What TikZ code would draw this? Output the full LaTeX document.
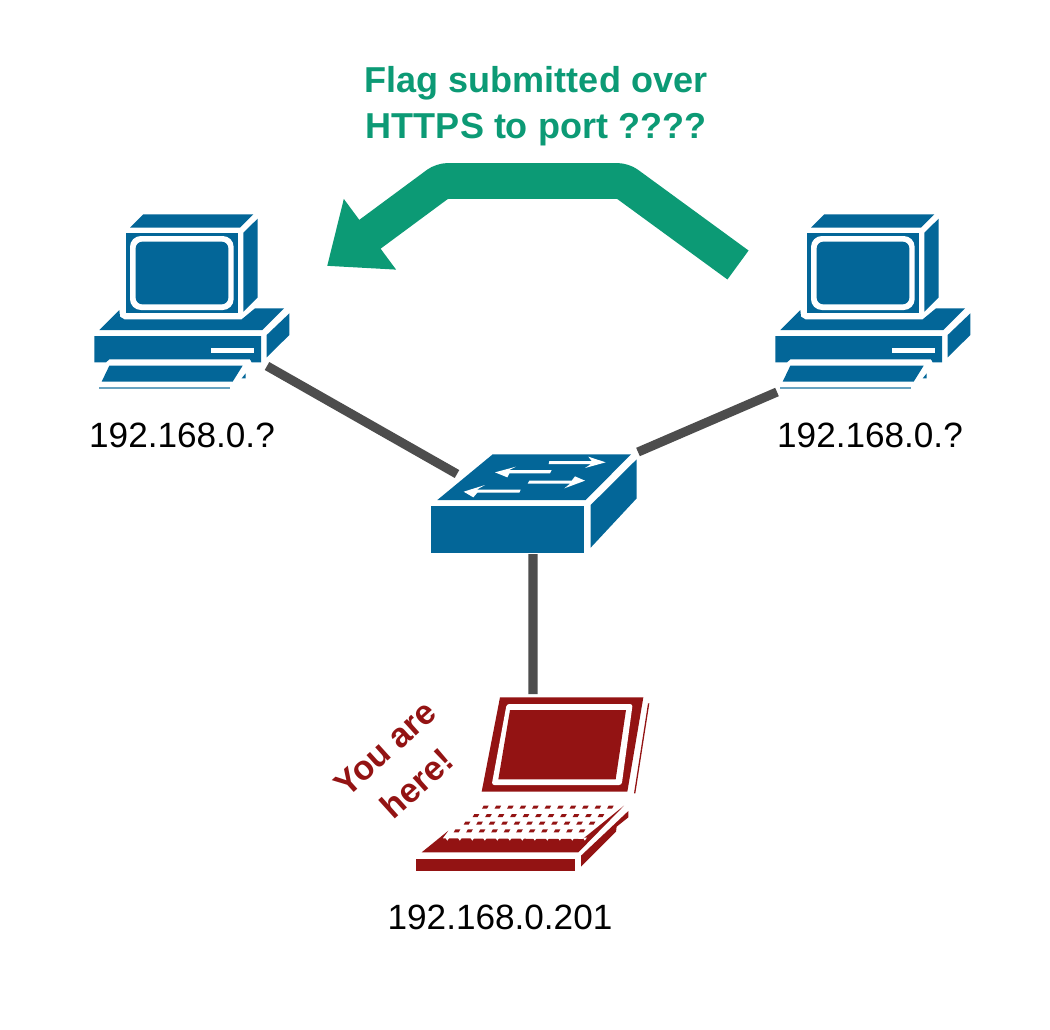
\documentclass[tikz,border=0pt]{standalone}
\usepackage{fontspec}
\setmainfont{Liberation Sans}
\usetikzlibrary{arrows.meta}

\definecolor{netblue}{HTML}{036698}
\definecolor{hostred}{HTML}{931313}
\definecolor{flaggreen}{HTML}{0C9A75}
\definecolor{linkgrey}{HTML}{4D4D4D}

\tikzset{
	link/.style = {line width = 5.2pt, linkgrey},
	flagarrow/.style = {line width = 20.4pt, flaggreen, rounded corners = 3.3pt, -{Triangle[length = 30.4pt, width = 48pt]}},
	iplabel/.style = {font = \fontsize{20pt}{24pt}\selectfont, inner sep = 0pt},
	flaglabel/.style = {font = \fontsize{20.5pt}{26pt}\selectfont\bfseries, text = flaggreen, align = center, inner sep = 0pt},
	herelabel/.style = {font = \fontsize{19.5pt}{27pt}\selectfont\bfseries, text = hostred, align = center, inner sep = 0pt, rotate = 42},
	pics/computer/.style = {code = {
		\begin{scope}[scale = 1/3]
			\fill[netblue] (150,83) -- (190,43) -- (520,43) -- (480,83) -- cycle;
			\fill[netblue] (490,98) -- (533,56) -- (533,292) -- (490,335) -- cycle;
			\fill[netblue] (137,100) rectangle (473,340);
			\fill[white, rounded corners = 6.2pt] (150,108) rectangle (461,330);
			\fill[netblue, rounded corners = 3.8pt] (167,125) rectangle (445,313);
			
			\fill[netblue] (58,390) -- (118,330) -- (120,350) -- (133,358) -- (485,358) -- (525,325) -- (612,325) -- (547,390) -- cycle;
			\fill[netblue] (560,405) -- (628,340) -- (628,405) -- (560,472) -- cycle;
			\fill[netblue] (43,408) -- (543,408) -- (543,487) -- (515,487) -- (510,478) -- (88,478) -- (78,487) -- (43,487) -- cycle;
			\fill[white] (392,443) rectangle (522,460);
			
			\fill[netblue] (88,497) -- (488,497) -- (458,545) -- (65,545) -- cycle;
			\fill[netblue] (485,535) -- (497,520) -- (497,535) -- cycle;
			\draw[netblue!60, line width = 1pt] (58,563) -- (450,563);
			
			\coordinate (-portr) at (561,498);
			\coordinate (-portl) at (48,576);
		\end{scope}
	}},
	pics/switch/.style = {code = {
		\begin{scope}[scale = 1/3]
			\fill[netblue] (52,180) -- (218,43) -- (633,43) -- (497,180) -- cycle;
			\fill[netblue] (512,195) -- (650,58) -- (650,175) -- (512,323) -- cycle;
			\fill[netblue] (32,198) rectangle (493,340);
			
			\fill[white] (388,63) -- (515,63) -- (505,50) -- (557,67) -- (495,84) -- (513,72) -- (386,72) -- cycle;
			\fill[white] (395,90) -- (268,90) -- (288,80) -- (225,97) -- (262,112) -- (268,100) -- (390,100) -- cycle;
			\fill[white] (328,122) -- (455,122) -- (465,109) -- (495,122) -- (433,145) -- (450,131) -- (323,131) -- cycle;
			\fill[white] (302,149) -- (170,149) -- (195,135) -- (131,155) -- (160,172) -- (172,158) -- (298,158) -- cycle;
			
			\coordinate (-nw) at (111,102);
			\coordinate (-ne) at (654,36);
			\coordinate (-s) at (339,342);
		\end{scope}
	}},
	pics/laptop/.style = {code = {
		\begin{scope}[scale = 1/3]
			\fill[hostred] (540,37) -- (970,37) -- (922,320) -- (485,320) -- cycle;
			\fill[white, rounded corners = 1.5pt] (560,57) -- (938,57) -- (905,300) -- (515,300) -- cycle;
			\fill[hostred] (570,75) -- (918,75) -- (887,283) -- (535,283) -- cycle;
			\fill[hostred] (984,55) -- (988,55) -- (946,325) -- (942,325) -- cycle;
			
			\fill[hostred] (305,502) -- (385,437) -- (368,460) -- (788,462) -- (912,362) -- (775,502) -- cycle;
			\foreach \k in {0,...,11}
				\fill[white] ({376 + \k*37.5},458) -- ({388 + \k*37.5},458) -- ({382 + \k*37.5},467) -- cycle;
			\foreach \rowy/\rowx in {367/495, 392/467, 415/440, 438/410}
				\foreach \k in {0,...,10}
					\fill[hostred] ({\rowx + \k*37.5 - 9},\rowy + 4) -- ++(15,0) -- ++(5,-9) -- ++(-15,0) -- cycle;
			
			\fill[hostred] (287,522) rectangle (765,558);
			\fill[hostred] (783,512) -- (925,378) -- (925,397) -- (890,425) -- (888,440) -- (783,545) -- cycle;
			
			\coordinate (-n) at (639,27);
		\end{scope}
	}}
}

\begin{document}
\begin{tikzpicture}[x = 0.02cm, y = -0.02cm]
	\useasboundingbox (0,0) rectangle (1050,1029);
	
	\pic (pcleft) at (80,200) {computer};
	\pic (pcright) at (761,200) {computer};
	\pic (hub) at (420,440) {switch};
	\pic (mybox) at (320,685) {laptop};
	
	\draw[link] (pcleft-portr) -- (hub-nw);
	\draw[link] (pcright-portl) -- (hub-ne);
	\draw[link] (hub-s) -- (mybox-n);
	
	\coordinate (flagfrom) at (738,265);
	\coordinate (bendright) at (623,181);
	\coordinate (bendleft) at (442,181);
	\coordinate (flagto) at (327,266);
	\draw[flagarrow] (flagfrom) -- (bendright) -- (bendleft) -- (flagto);
	
	\node[flaglabel] (flagtext) at (536,106) {Flag submitted over\\HTTPS to port ????};
	\node[iplabel] (ipleft) at (182,435) {192.168.0.?};
	\node[iplabel] (ipright) at (870,435) {192.168.0.?};
	\node[iplabel] (ipmine) at (500,917) {192.168.0.201};
	\node[herelabel] (heretext) at (401,766) {You are\\here!};
\end{tikzpicture}
\end{document}
